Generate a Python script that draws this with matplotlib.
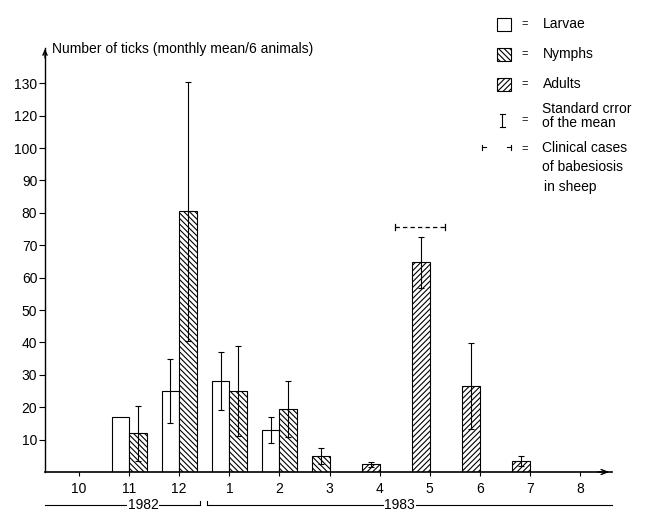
import numpy as np
import matplotlib
matplotlib.use("Agg")
import matplotlib.pyplot as plt
from matplotlib.patches import Rectangle
from matplotlib.lines import Line2D

plt.rcParams['font.family'] = ['Liberation Sans', 'DejaVu Sans']
plt.rcParams['font.size'] = 10
plt.rcParams['hatch.linewidth'] = 0.8

nan = np.nan

# Monatswerte (Mittel / 6 Tiere)
months = ['10', '11', '12', '1', '2', '3', '4', '5', '6', '7', '8']
larvae = [0, 17, 25, 28, 13, 0, 0, 0, 0, 0, 0]
larvae_se = [nan, nan, 10, 9, 4, nan, nan, nan, nan, nan, nan]
nymphs = [0, 12, 80.5, 25, 19.5, 5, 0, 0, 0, 0, 0]
nymphs_se = [nan, 8.5, 40, 14, 8.7, 2.4, nan, nan, nan, nan, nan]
adults = [0, 0, 0, 0, 0, 0, 2.4, 64.7, 26.5, 3.4, 0]
adults_se = [nan, nan, nan, nan, nan, nan, 0.8, 7.8, 13.2, 1.6, nan]

ytick_pos = [10, 20, 30, 40, 50, 60, 70, 80, 90, 100, 110, 120]
ytick_labels = ['10', '20', '30', '40', '50', '60', '70', '80', '90', '100', '120', '130']

# klinische Babesiose-Fälle: von, bis (Monatsindex), Höhe
clinical = (6.3, 7.3, 75.7)

W, H = 659, 512
def fx(px):
    return px / W
def fy(py):
    return 1 - py / H

fig = plt.figure(figsize=(6.59, 5.12), dpi=100)
ax = fig.add_axes([fx(45), 40 / H, 567 / W, 424 / H])
ax.set_xlim(-0.68, 10.64)
ax.set_ylim(0, 130.9)

x = np.arange(len(months))
w = 0.35
larvae = np.array(larvae, float)
nymphs = np.array(nymphs, float)
adults = np.array(adults, float)

hatch_n = '\\\\\\\\\\\\'
hatch_a = '//////'
bar_kw = dict(align='edge', edgecolor='black', linewidth=0.8, zorder=2)
err_kw = dict(fmt='none', ecolor='black', elinewidth=0.8, capsize=2.5, capthick=0.8, zorder=3)

m = larvae > 0
ax.bar(x[m], larvae[m], width=-w, facecolor='white', **bar_kw)
ax.errorbar(x - w / 2, larvae, yerr=larvae_se, **err_kw)

# Nymphen rechts vom Strich, wenn es Larven gibt, sonst links
nleft = np.where(larvae > 0, x, x - w)
m = nymphs > 0
ax.bar(nleft[m], nymphs[m], width=w, facecolor='white', hatch=hatch_n, **bar_kw)
ax.errorbar(nleft + w / 2, nymphs, yerr=nymphs_se, **err_kw)

m = adults > 0
ax.bar(x[m] - w, adults[m], width=w, facecolor='white', hatch=hatch_a, **bar_kw)
ax.errorbar(x - w / 2, adults, yerr=adults_se, **err_kw)

# Dauer der klinischen Fälle
c0, c1, cy = clinical
ax.plot([c0, c1], [cy, cy], color='black', lw=0.9, linestyle=(0, (3.5, 2.5)))
ax.plot([c0, c0], [cy - 0.9, cy + 0.9], color='black', lw=0.9)
ax.plot([c1, c1], [cy - 0.9, cy + 0.9], color='black', lw=0.9)

for s in ['top', 'right']:
    ax.spines[s].set_visible(False)
ax.spines['left'].set_linewidth(1)
ax.spines['bottom'].set_linewidth(1.2)
ax.annotate('', xy=(0, 1.005), xycoords='axes fraction', xytext=(0, 0.97),
            arrowprops=dict(arrowstyle='->,head_length=0.35,head_width=0.15', lw=1, color='black'))
ax.annotate('', xy=(1.0, 0), xycoords='axes fraction', xytext=(0.97, 0),
            arrowprops=dict(arrowstyle='->,head_length=0.45,head_width=0.18', lw=1, color='black'))

ax.set_yticks(ytick_pos, ytick_labels)
ax.set_xticks(x, months)
ax.tick_params(axis='y', length=4, width=0.8, pad=1.5)
ax.tick_params(axis='x', length=3, width=0.8, pad=4)

# Jahreslinien unter der Achse
yl = -10.3
ax.plot([-0.68, 2.42], [yl, yl], color='black', lw=0.8, clip_on=False)
ax.plot([2.42, 2.42], [yl, yl + 1.2], color='black', lw=0.8, clip_on=False)
ax.plot([2.55, 10.64], [yl, yl], color='black', lw=0.8, clip_on=False)
ax.plot([2.55, 2.55], [yl, yl + 1.2], color='black', lw=0.8, clip_on=False)
box = dict(facecolor='white', edgecolor='none', pad=0.5)
ax.text(1.28, yl, '1982', ha='center', va='center', bbox=box, clip_on=False)
ax.text(6.4, yl, '1983', ha='center', va='center', bbox=box, clip_on=False)

fig.text(fx(52), fy(49), 'Number of ticks (monthly mean/6 animals)', ha='left', va='center')

# Legende rechts oben
sq = [(24, None), (54, hatch_n), (84, hatch_a)]
names = ['Larvae', 'Nymphs', 'Adults']
for (cy_px, h), name in zip(sq, names):
    r = Rectangle((fx(497), fy(cy_px + 6.5)), 14 / W, 13 / H, transform=fig.transFigure,
                  facecolor='white', edgecolor='black', lw=0.8, hatch=h)
    fig.add_artist(r)
    fig.text(fx(525), fy(cy_px), '=', ha='center', va='center', fontsize=8)
    fig.text(fx(543), fy(cy_px), name, ha='left', va='center')

lk = dict(color='black', lw=0.8, transform=fig.transFigure)
fig.add_artist(Line2D([fx(502), fx(502)], [fy(114), fy(127)], **lk))
fig.add_artist(Line2D([fx(499.5), fx(504.5)], [fy(114), fy(114)], **lk))
fig.add_artist(Line2D([fx(499.5), fx(504.5)], [fy(127), fy(127)], **lk))
fig.text(fx(525), fy(120), '=', ha='center', va='center', fontsize=8)
fig.text(fx(542), fy(109), 'Standard crror', ha='left', va='center')
fig.text(fx(542), fy(123), 'of the mean', ha='left', va='center')

fig.add_artist(Line2D([fx(482), fx(482)], [fy(144.5), fy(149.5)], **lk))
fig.add_artist(Line2D([fx(482), fx(486)], [fy(147), fy(147)], **lk))
fig.add_artist(Line2D([fx(511), fx(511)], [fy(144.5), fy(149.5)], **lk))
fig.add_artist(Line2D([fx(507), fx(511)], [fy(147), fy(147)], **lk))
fig.text(fx(525), fy(149), '=', ha='center', va='center', fontsize=8)
fig.text(fx(542), fy(148), 'Clinical cases', ha='left', va='center')
fig.text(fx(542), fy(167), 'of babesiosis', ha='left', va='center')
fig.text(fx(544), fy(187), 'in sheep', ha='left', va='center')

fig.savefig('out.png', dpi=100)
